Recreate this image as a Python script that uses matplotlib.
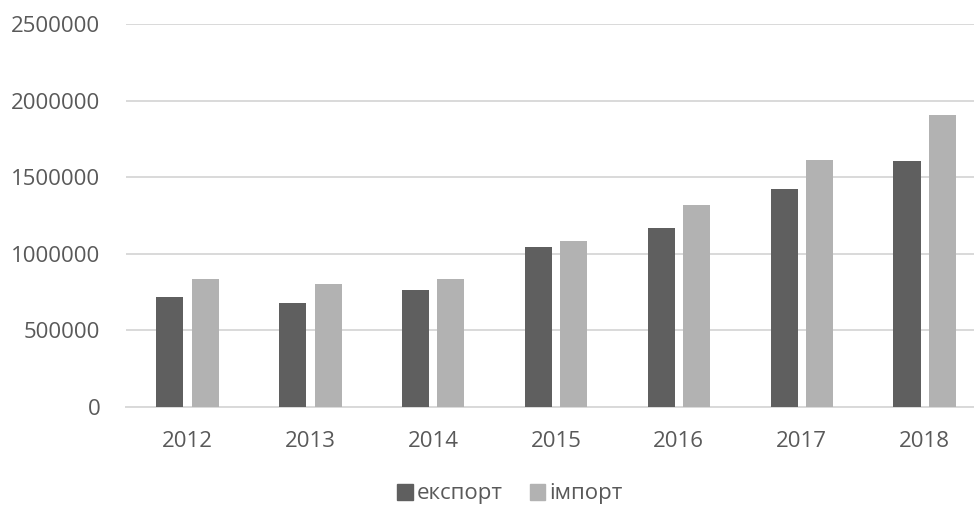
import numpy as np
import matplotlib.pyplot as plt
from matplotlib.patches import Patch

years = ['2012', '2013', '2014', '2015', '2016', '2017', '2018']
export_vals = [717000, 680000, 765000, 1044000, 1170000, 1425000, 1606000]
import_vals = [835000, 802000, 835000, 1081000, 1316000, 1612000, 1909000]
series_names = ['експорт', 'імпорт']

dark = '#5f5f5f'
light = '#b2b2b2'
txt = '#595959'
grid = '#d9d9d9'

plt.rcParams['font.family'] = ['Open Sans', 'DejaVu Sans']

fig = plt.figure(figsize=(9.74, 5.07), dpi=100)
ax = fig.add_axes([126 / 974, 100 / 507, 860 / 974, 383 / 507])

x = np.arange(len(years))
w = 0.22
ax.bar(x - 0.143, export_vals, w, color=dark, zorder=3)
ax.bar(x + 0.145, import_vals, w, color=light, zorder=3)

ax.set_xlim(-0.5, len(years) - 0.5)
ax.set_ylim(0, 2500000)
ax.set_yticks(np.arange(0, 2500001, 500000))
ax.set_yticklabels([str(v) for v in range(0, 2500001, 500000)])
ax.set_xticks(x)
ax.set_xticklabels(years)

ax.grid(axis='y', color=grid, linewidth=1.4, zorder=0)
for s in ['top', 'right', 'left']:
    ax.spines[s].set_visible(False)
ax.spines['bottom'].set_color(grid)
ax.spines['bottom'].set_linewidth(1.4)
ax.tick_params(axis='both', length=0, labelsize=16, labelcolor=txt)
ax.tick_params(axis='y', pad=18.5)
ax.tick_params(axis='x', pad=17)

# legend sits at the very bottom edge, as in the source
handles = [Patch(color=dark), Patch(color=light)]
fig.legend(handles, series_names, loc='center', bbox_to_anchor=(510 / 974, 13 / 507),
           ncol=2, frameon=False, fontsize=16, labelcolor=txt,
           handlelength=0.7, handleheight=0.7, handletextpad=0.2, columnspacing=1.2)

fig.savefig('out.png', dpi=100)
